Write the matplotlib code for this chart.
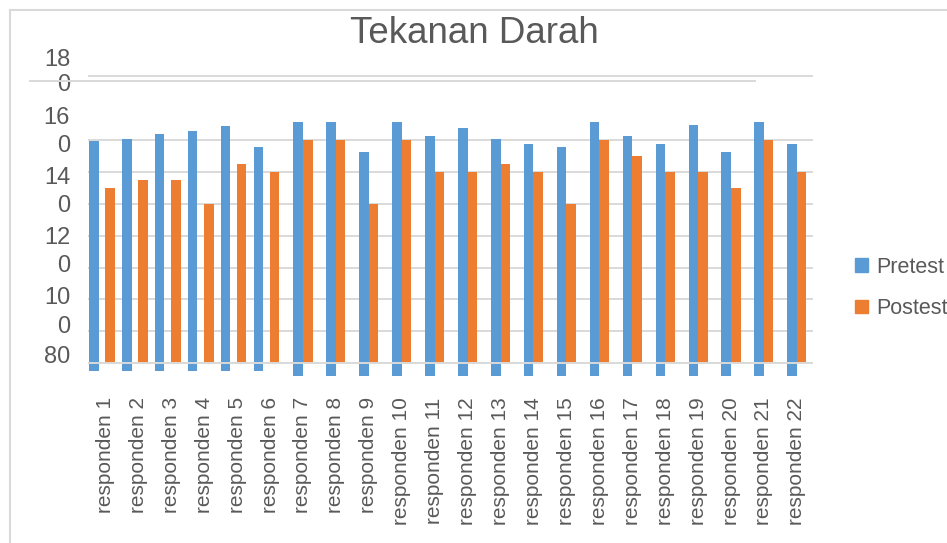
import matplotlib
matplotlib.use("Agg")
import matplotlib.pyplot as plt
from matplotlib.lines import Line2D
from matplotlib.patches import Patch
import numpy as np

plt.rcParams['font.family'] = ['Liberation Sans', 'DejaVu Sans']

categories = [f"responden {i}" for i in range(1, 23)]
pretest = [149.5, 150.2, 151.8, 152.7, 154.3, 147.7, 155.6, 155.6, 146.1, 155.6, 151.3,
           153.8, 150.3, 148.7, 147.8, 155.6, 151.3, 148.7, 154.6, 146.1, 155.6, 148.7]
postest = [135, 137.5, 137.5, 130, 142.5, 140, 150, 150, 130, 150, 140,
           140, 142.5, 140, 130, 150, 145, 140, 140, 135, 150, 140]
ytick_labels = ["18\n0", "16\n0", "14\n0", "12\n0", "10\n0", "80"]
grid_values = [80, 90, 100, 110, 120, 130, 140, 150, 170]

BLUE = "#5B9BD5"
ORANGE = "#ED7D31"
GRID = "#D9D9D9"
TEXT = "#595959"

W, H = 947, 543
fig = plt.figure(figsize=(W / 100, H / 100), dpi=100)
ax = fig.add_axes([88 / W, 1 - 379.3 / H, (813 - 88) / W, (379.3 - 74.4) / H])

x = np.arange(len(categories))
pre_x = np.where(x < 6, x - 0.35, x - 0.145)
post_x = np.where(x < 6, x + 0.14, x + 0.145)
pre_bottom = np.where(x < 6, 77.6, 76.0)
base = 80.0

ax.bar(pre_x, np.array(pretest) - pre_bottom, bottom=pre_bottom, width=0.29,
       color=BLUE, zorder=2, label="Pretest")
ax.bar(post_x, np.array(postest) - base, bottom=base, width=0.29,
       color=ORANGE, zorder=2, label="Postest")

for g in grid_values:
    ax.axhline(g, color=GRID, lw=1.4, zorder=3 if g == base else 1)

ax.set_xlim(-0.528, 21.49)
ax.set_ylim(75, 170.5)
for s in ax.spines.values():
    s.set_visible(False)
ax.set_yticks([])
ax.set_xticks(x)
ax.set_xticklabels(categories, rotation=90, fontsize=15, color=TEXT, va='top', ha='center')
ax.tick_params(axis='x', length=0, pad=13)

# y labels (wrapped as in the original)
ylab_pos = [171.1, 152.5, 133.7, 114.8, 95.9, 81.9]
ylab_ls = [1.15, 1.37, 1.37, 1.37, 1.37, 1.2]
for lab, yp, ls in zip(ytick_labels, ylab_pos, ylab_ls):
    ax.text(-0.0248, yp, lab, transform=ax.get_yaxis_transform(), ha='right', va='center',
            fontsize=17, color=TEXT, linespacing=ls, multialignment='right', clip_on=False)

# title
fig.text(474 / W, 1 - 43 / H, "Tekanan Darah", ha='center', va='baseline', fontsize=26.5, color=TEXT)

# chart border (partial) and stray line
fig.add_artist(Line2D([10 / W, 1], [1 - 10 / H, 1 - 10 / H], color=GRID, lw=1.5))
fig.add_artist(Line2D([10 / W, 10 / W], [0, 1 - 10 / H], color=GRID, lw=1.5))
fig.add_artist(Line2D([30 / W, 755 / W], [1 - 80.5 / H, 1 - 80.5 / H], color=GRID, lw=1.4))

handles = [Patch(color=BLUE), Patch(color=ORANGE)]
fig.legend(handles, ["Pretest", "Postest"], loc='center left',
           bbox_to_anchor=(855 / W, 1 - 288 / H), frameon=False, fontsize=15.5,
           labelcolor=TEXT, handlelength=0.6, handleheight=0.6, handletextpad=0.4,
           labelspacing=0.95, borderpad=0, borderaxespad=0)

fig.savefig("out.png", dpi=100)
